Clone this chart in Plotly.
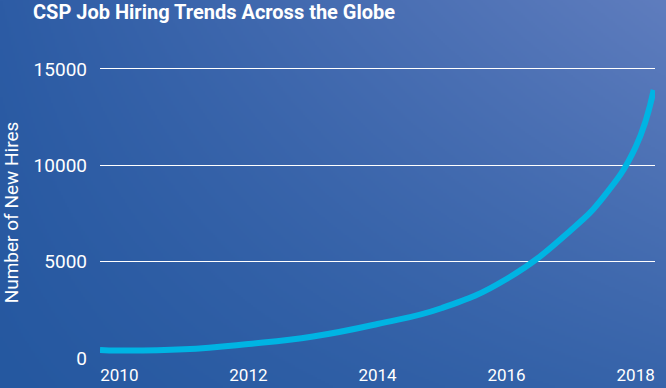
import base64, struct, zlib
import numpy as np
import plotly.graph_objects as go

# ---- data ----
years = [2009.7, 2010, 2011, 2012, 2013, 2014, 2015, 2016, 2017, 2017.5, 2018, 2018.28]
new_hires = [415, 385, 450, 727, 1116, 1765, 2595, 4100, 6640, 8350, 10950, 13910]
x_ticks = [2010, 2012, 2014, 2016, 2018]
y_ticks = [0, 5000, 10000, 15000]

title_text = "CSP Job Hiring Trends Across the Globe"
y_title = "Number of New Hires"

W, H = 666, 388
L, R, T, B = 100, 11, 67, 30
PW, PH = W - L - R, H - T - B


# ---- background gradient as an embedded PNG ----
def gradient_png(w, h):
    tl = np.array([45, 92, 165], float)
    tr = np.array([95, 125, 190], float)
    bl = np.array([37, 88, 160], float)
    br = np.array([55, 100, 170], float)
    u = np.linspace(0, 1, w)[None, :, None]
    v = np.linspace(0, 1, h)[:, None, None]  # 0 top, 1 bottom
    top = tl + (tr - tl) * u
    bot = bl + (br - bl) * u
    img = top + (bot - top) * v
    img = np.clip(img, 0, 255).astype(np.uint8)
    raw = b"".join(b"\x00" + img[i].tobytes() for i in range(h))

    def chunk(tag, data):
        c = struct.pack(">I", len(data)) + tag + data
        return c + struct.pack(">I", zlib.crc32(tag + data) & 0xFFFFFFFF)

    png = b"\x89PNG\r\n\x1a\n"
    png += chunk(b"IHDR", struct.pack(">IIBBBBB", w, h, 8, 2, 0, 0, 0))
    png += chunk(b"IDAT", zlib.compress(raw, 9))
    png += chunk(b"IEND", b"")
    return "data:image/png;base64," + base64.b64encode(png).decode()


bg = gradient_png(333, 194)

fig = go.Figure()
fig.add_trace(go.Scatter(
    x=years, y=new_hires, mode="lines",
    line=dict(color="#00B4E3", width=6, shape="spline", smoothing=1.3),
    hoverinfo="skip", showlegend=False,
))

fig.update_layout(
    width=W, height=H,
    margin=dict(l=L, r=R, t=T, b=B, autoexpand=False),
    paper_bgcolor="#3864AA",
    plot_bgcolor="rgba(0,0,0,0)",
    font=dict(family="Roboto", color="white"),
    title=dict(
        text=title_text, x=33 / W, xref="container", xanchor="left",
        y=1 - 12 / H, yref="container", yanchor="middle",
        font=dict(family="Roboto", size=20, color="white", weight="bold"),
    ),
    images=[dict(
        source=bg, xref="paper", yref="paper",
        x=-L / PW, y=1 + T / PH, sizex=W / PW, sizey=H / PH,
        xanchor="left", yanchor="top", sizing="stretch", layer="below",
    )],
    xaxis=dict(
        range=[2009.7, 2018.3], tickvals=x_ticks, ticktext=[str(t) for t in x_ticks],
        showgrid=False, zeroline=False, showline=False, ticks="",
        tickfont=dict(family="Roboto", size=17, color="white"),
        ticklabelstandoff=5,
    ),
    yaxis=dict(
        range=[0, 15100], tickvals=y_ticks, ticktext=[str(t) for t in y_ticks],
        showgrid=True, gridcolor="white", gridwidth=1.3,
        zeroline=False, showline=False, ticks="",
        tickfont=dict(family="Roboto", size=19, color="white"),
        ticklabelstandoff=12,
        title=dict(text=y_title, font=dict(family="Roboto", size=19, color="white"), standoff=10),
    ),
)

fig.write_html(
    "out.html",
    config={"displayModeBar": False},
    post_script="document.body.style.margin='0';document.body.style.padding='0';"
                "document.documentElement.style.margin='0';document.body.style.overflow='hidden';",
)
